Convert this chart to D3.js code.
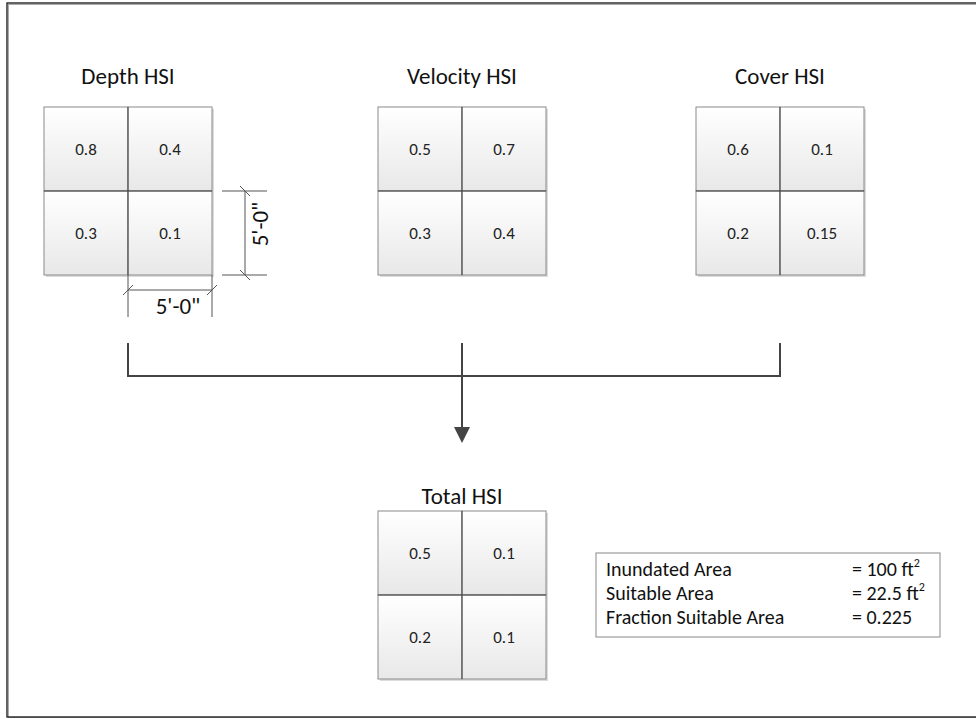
<!DOCTYPE html>
<html><head><meta charset="utf-8">
<script src="https://cdn.jsdelivr.net/npm/d3@7"></script>
<style>body{margin:0;background:#fff}svg{display:block;font-family:Carlito,Lato,"Open Sans",sans-serif}</style>
</head><body><svg id="c" width="976" height="719"></svg>
<script>
// ---- data ----
const panelTitles = ["Depth HSI", "Velocity HSI", "Cover HSI", "Total HSI"];
const depthValues = ["0.8", "0.4", "0.3", "0.1"];
const velocityValues = ["0.5", "0.7", "0.3", "0.4"];
const coverValues = ["0.6", "0.1", "0.2", "0.15"];
const totalValues = ["0.5", "0.1", "0.2", "0.1"];
const dimensionLabel = "5'-0\"";
const summaryLabels = ["Inundated Area", "Suitable Area", "Fraction Suitable Area"];
const summaryValues = ["= 100 ft", "= 22.5 ft", "= 0.225"];
const summarySuper = ["2", "2", ""];

const svg = d3.select("#c");
const defs = svg.append("defs");
const grad = defs.append("linearGradient").attr("id", "cellg").attr("x1", 0).attr("y1", 0).attr("x2", 0).attr("y2", 1);
grad.append("stop").attr("offset", "0%").attr("stop-color", "#ffffff");
grad.append("stop").attr("offset", "100%").attr("stop-color", "#e8e8e8");

// outer frame
svg.append("rect").attr("x", 8.5).attr("y", 4.5).attr("width", 990).attr("height", 713)
  .attr("fill", "none").attr("stroke", "#aaa").attr("stroke-width", 1);
svg.append("rect").attr("x", 7).attr("y", 3).attr("width", 990).attr("height", 714)
  .attr("fill", "none").attr("stroke", "#222").attr("stroke-width", 1.4);

// panel positions via scales
const topRow = d3.scaleOrdinal().domain([0, 1, 2]).range([128, 462, 780]);
const gridSize = 168;
const cell = d3.scaleBand().domain([0, 1]).range([0, gridSize]);

const panels = [
  {title: panelTitles[0], vals: depthValues, cx: topRow(0), top: 107, titleY: 84},
  {title: panelTitles[1], vals: velocityValues, cx: topRow(1), top: 107, titleY: 84},
  {title: panelTitles[2], vals: coverValues, cx: topRow(2), top: 107, titleY: 84},
  {title: panelTitles[3], vals: totalValues, cx: topRow(1), top: 511, titleY: 504}
];

panels.forEach(p => {
  const g = svg.append("g").attr("transform", `translate(${p.cx - gridSize / 2},${p.top})`);
  g.append("rect").attr("x", 2).attr("y", 2).attr("width", gridSize).attr("height", gridSize)
    .attr("fill", "#dcdcdc");
  const cells = p.vals.map((v, i) => ({v, c: i % 2, r: Math.floor(i / 2)}));
  g.selectAll("rect.cell").data(cells).join("rect").attr("class", "cell")
    .attr("x", d => cell(d.c)).attr("y", d => cell(d.r))
    .attr("width", cell.bandwidth()).attr("height", cell.bandwidth())
    .attr("fill", "url(#cellg)").attr("stroke", "#8a8a8a").attr("stroke-width", 1);
  g.append("line").attr("x1", gridSize / 2).attr("x2", gridSize / 2).attr("y1", 0).attr("y2", gridSize)
    .attr("stroke", "#444").attr("stroke-width", 1);
  g.append("line").attr("x1", 0).attr("x2", gridSize).attr("y1", gridSize / 2).attr("y2", gridSize / 2)
    .attr("stroke", "#444").attr("stroke-width", 1);
  g.selectAll("text.val").data(cells).join("text").attr("class", "val")
    .attr("x", d => cell(d.c) + cell.bandwidth() / 2)
    .attr("y", d => cell(d.r) + cell.bandwidth() / 2 + 6)
    .attr("text-anchor", "middle").attr("font-size", 17).attr("fill", "#222").text(d => d.v);
  svg.append("text").attr("x", p.cx).attr("y", p.titleY).attr("text-anchor", "middle")
    .attr("font-size", 23).attr("fill", "#111").text(p.title);
});

// dimension lines on depth grid
const dg = {x0: topRow(0) - gridSize / 2, y0: 107};
const dim = svg.append("g").attr("stroke", "#555").attr("stroke-width", 1).attr("fill", "none");
const midX = dg.x0 + gridSize / 2, rightX = dg.x0 + gridSize;
const midY = dg.y0 + gridSize / 2, botY = dg.y0 + gridSize;
dim.append("line").attr("x1", midX).attr("x2", midX).attr("y1", botY).attr("y2", 317);
dim.append("line").attr("x1", rightX).attr("x2", rightX).attr("y1", botY).attr("y2", 317);
dim.append("line").attr("x1", midX).attr("x2", rightX).attr("y1", 290).attr("y2", 290);
[midX, rightX].forEach(x => dim.append("line").attr("x1", x - 5).attr("y1", 295).attr("x2", x + 5).attr("y2", 285));
svg.append("text").attr("x", 178).attr("y", 314).attr("text-anchor", "middle")
  .attr("font-size", 23).attr("fill", "#111").text(dimensionLabel);
dim.append("line").attr("x1", 222).attr("x2", 267).attr("y1", midY).attr("y2", midY);
dim.append("line").attr("x1", 222).attr("x2", 267).attr("y1", botY).attr("y2", botY);
dim.append("line").attr("x1", 245).attr("x2", 245).attr("y1", midY).attr("y2", botY);
[midY, botY].forEach(y => dim.append("line").attr("x1", 240).attr("y1", y - 5).attr("x2", 250).attr("y2", y + 5));
svg.append("text").attr("transform", `translate(268,224) rotate(-90)`)
  .attr("text-anchor", "middle").attr("font-size", 23).attr("fill", "#111").text(dimensionLabel);

// connectors
const conn = svg.append("g").attr("stroke", "#444").attr("stroke-width", 2).attr("fill", "none");
const busY = 376, startY = 343;
conn.append("path").attr("d", `M${topRow(0)},${startY}V${busY}H${topRow(2)}V${startY}`);
conn.append("line").attr("x1", topRow(1)).attr("x2", topRow(1)).attr("y1", startY).attr("y2", 428);
svg.append("path").attr("d", `M${topRow(1) - 8},${427}L${topRow(1) + 8},${427}L${topRow(1)},${443}Z`).attr("fill", "#444");

// summary box
const box = svg.append("g").attr("transform", "translate(596,553)");
box.append("rect").attr("x", 0).attr("y", 0).attr("width", 344).attr("height", 84)
  .attr("fill", "#fff").attr("stroke", "#888").attr("stroke-width", 1);
summaryLabels.forEach((l, i) => {
  box.append("text").attr("x", 10).attr("y", 23 + i * 24).attr("font-size", 20).attr("fill", "#111").text(l);
  const t = box.append("text").attr("x", 256).attr("y", 23 + i * 24).attr("font-size", 20).attr("fill", "#111").text(summaryValues[i]);
  if (summarySuper[i]) t.append("tspan").attr("dy", -9).attr("font-size", 12).text(summarySuper[i]);
});
</script></body></html>
